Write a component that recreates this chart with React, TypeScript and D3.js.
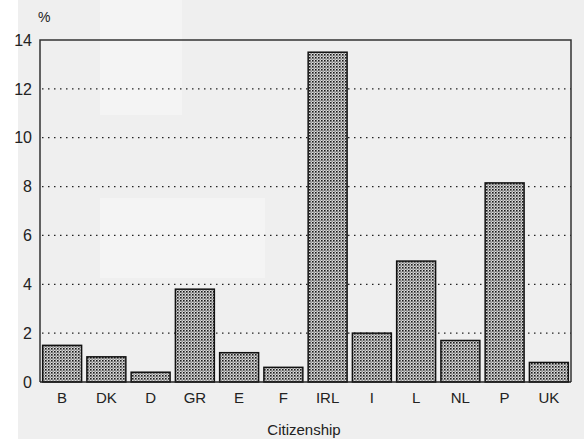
import { useRef, useEffect } from 'react'
import * as d3 from 'd3'

const categories = ['B', 'DK', 'D', 'GR', 'E', 'F', 'IRL', 'I', 'L', 'NL', 'P', 'UK']
const values = [1.5, 1.03, 0.4, 3.8, 1.2, 0.6, 13.5, 2.0, 4.95, 1.7, 8.15, 0.8]
const yTicks = [0, 2, 4, 6, 8, 10, 12, 14]

const W = 584
const H = 439

const App = () => {
  const svgRef = useRef<SVGSVGElement>(null)

  useEffect(() => {
    if (!svgRef.current) return
    const svg = d3.select(svgRef.current)
    svg.selectAll('*').remove()

    const m = { left: 40, right: 13, top: 40, bottom: 57 }
    const x = d3.scaleBand<string>()
      .domain(categories)
      .range([m.left, W - m.right])
      .paddingInner(0.12)
      .paddingOuter(0.06)
    const y = d3.scaleLinear().domain([0, 14]).range([H - m.bottom, m.top])

    const defs = svg.append('defs')
    const pat = defs.append('pattern')
      .attr('id', 'dots')
      .attr('patternUnits', 'userSpaceOnUse')
      .attr('width', 3)
      .attr('height', 3)
    pat.append('rect').attr('width', 3).attr('height', 3).attr('fill', '#dcdcdc')
    pat.append('rect').attr('width', 1.6).attr('height', 1.6).attr('fill', '#1a1a1a')
    pat.append('rect').attr('x', 1.5).attr('y', 1.5).attr('width', 1.2).attr('height', 1.2).attr('fill', '#555')

    // page background (scanned look)
    svg.append('rect').attr('width', W).attr('height', H).attr('fill', '#ffffff')
    svg.append('rect').attr('x', 18).attr('y', 0).attr('width', W - 18).attr('height', H).attr('fill', '#efefef')
    svg.append('rect').attr('x', 100).attr('y', 0).attr('width', 82).attr('height', 115).attr('fill', '#f4f4f4')
    svg.append('rect').attr('x', 100).attr('y', 198).attr('width', 165).attr('height', 80).attr('fill', '#f4f4f4')

    // grid
    svg.append('g')
      .selectAll('line')
      .data(yTicks.filter(t => t > 0 && t < 14))
      .join('line')
      .attr('x1', m.left + 2)
      .attr('x2', W - m.right)
      .attr('y1', d => y(d))
      .attr('y2', d => y(d))
      .attr('stroke', '#222')
      .attr('stroke-width', 1.3)
      .attr('stroke-dasharray', '1.5,4.5')

    // frame
    svg.append('path')
      .attr('d', `M${m.left},${y(0)}V${y(14)}H${W - m.right}V${y(0)}`)
      .attr('fill', 'none')
      .attr('stroke', '#333')
      .attr('stroke-width', 1.5)

    // bars
    svg.append('g')
      .selectAll('rect')
      .data(values)
      .join('rect')
      .attr('x', (_, i) => x(categories[i])!)
      .attr('y', d => y(d))
      .attr('width', x.bandwidth())
      .attr('height', d => y(0) - y(d))
      .attr('fill', 'url(#dots)')
      .attr('stroke', '#111')
      .attr('stroke-width', 1.5)

    // baseline
    svg.append('line')
      .attr('x1', m.left).attr('x2', W - m.right)
      .attr('y1', y(0)).attr('y2', y(0))
      .attr('stroke', '#222').attr('stroke-width', 1.5)

    const font = 'Liberation Sans, Arial, sans-serif'

    svg.append('g')
      .selectAll('text')
      .data(yTicks)
      .join('text')
      .attr('x', 32)
      .attr('y', d => y(d))
      .attr('dy', '0.36em')
      .attr('text-anchor', 'end')
      .attr('font-family', font)
      .attr('font-size', 16)
      .attr('fill', '#222')
      .text(d => d)

    svg.append('g')
      .selectAll('text')
      .data(categories)
      .join('text')
      .attr('x', d => x(d)! + x.bandwidth() / 2)
      .attr('y', 403)
      .attr('text-anchor', 'middle')
      .attr('font-family', font)
      .attr('font-size', 15)
      .attr('fill', '#222')
      .text(d => d)

    svg.append('text')
      .attr('x', 304)
      .attr('y', 435)
      .attr('text-anchor', 'middle')
      .attr('font-family', font)
      .attr('font-size', 15)
      .attr('fill', '#222')
      .text('Citizenship')

    svg.append('text')
      .attr('x', 38)
      .attr('y', 22)
      .attr('font-family', font)
      .attr('font-size', 14)
      .attr('fill', '#222')
      .text('%')
  }, [])

  return (
    <svg ref={svgRef} width={W} height={H}
      style={{ position: 'absolute', left: 0, top: 0, display: 'block' }} />
  )
}

export default App
